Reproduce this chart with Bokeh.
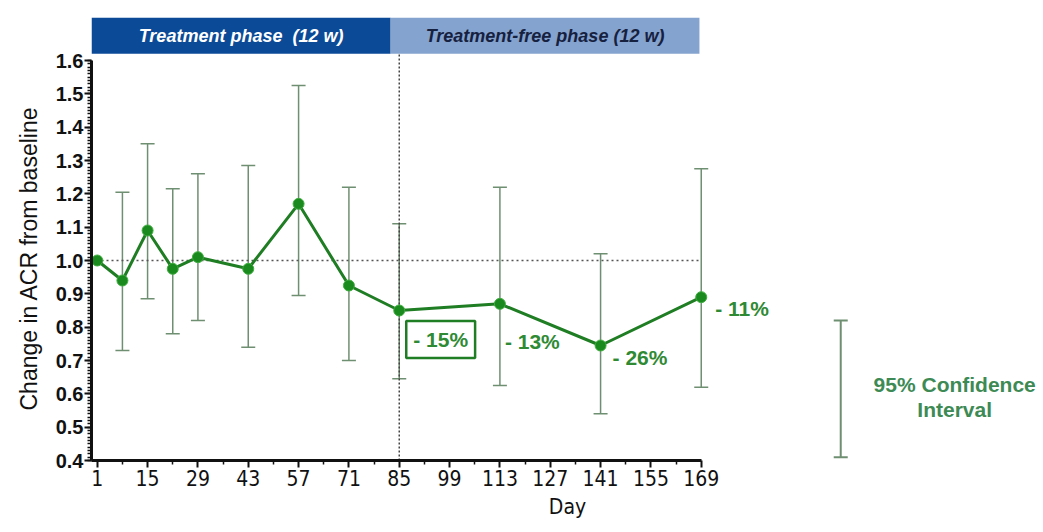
from bokeh.plotting import figure
from bokeh.models import Range1d, FixedTicker, Whisker, ColumnDataSource, Label, Title, CustomJSTickFormatter
from bokeh.embed import file_html
from bokeh.resources import INLINE
import numpy as np

# ---- data ----
days = [1, 8, 15, 22, 29, 43, 57, 71, 85, 113, 141, 169]
acr = [1.00, 0.94, 1.09, 0.975, 1.01, 0.975, 1.17, 0.925, 0.85, 0.87, 0.745, 0.89]
ci_upper = [1.00, 1.205, 1.35, 1.215, 1.26, 1.285, 1.525, 1.22, 1.11, 1.22, 1.02, 1.275]
ci_lower = [1.00, 0.73, 0.885, 0.78, 0.82, 0.74, 0.895, 0.70, 0.645, 0.625, 0.54, 0.62]
pct_days = [85, 113, 141, 169]
pct_vals = [0.85, 0.87, 0.745, 0.89]
pct_labels = ["- 15%", "- 13%", "- 26%", "- 11%"]
x_ticks = [1, 15, 29, 43, 57, 71, 85, 99, 113, 127, 141, 155, 169]
x_minor = [8, 22, 36, 50, 64, 78, 92, 106, 120, 134, 148, 162]
y_ticks = [0.4, 0.5, 0.6, 0.7, 0.8, 0.9, 1.0, 1.1, 1.2, 1.3, 1.4, 1.5, 1.6]
phase_names = ["Treatment phase\u00a0 (12 w)", "Treatment-free phase (12 w)"]
phase_start = [-0.6, 82.6]
phase_end = [82.6, 168.5]
legend_ci = [0.41, 0.82]
legend_text = ["95% Confidence", "Interval"]

# ---- styling positions (screen offsets) ----
pct_dx = [7, 5, 12, 14]
pct_dy = [-29, -38, -12, -11]

GREEN = "#1f7d23"
BAR = "#6f8f72"
FONT = "Liberation Sans"
NARROW = "DejaVu Sans Condensed"

p = figure(width=1043, height=530, output_backend="svg", toolbar_location=None,
           x_range=Range1d(-0.6, 264.2), y_range=Range1d(0.4, 1.75),
           min_border_left=91, min_border_right=0, min_border_top=10, min_border_bottom=70)
p.outline_line_color = None
p.xgrid.visible = False
p.ygrid.visible = False

# axes
p.xaxis.ticker = FixedTicker(ticks=x_ticks, minor_ticks=x_minor)
p.xaxis.bounds = (-0.6, 169)
p.yaxis.ticker = FixedTicker(ticks=y_ticks, minor_ticks=list(np.round(np.arange(0.40, 1.601, 0.01), 2)))
p.yaxis.bounds = (0.4, 1.6)
p.yaxis.formatter = CustomJSTickFormatter(code="return tick.toFixed(1);")
for ax in (p.xaxis[0], p.yaxis[0]):
    ax.axis_line_width = 3
    ax.axis_line_color = "#111111"
    ax.major_tick_line_width = 2
    ax.major_tick_line_color = "#111111"
    ax.minor_tick_line_color = "#111111"
    ax.minor_tick_line_width = 1.5
    ax.major_tick_out = 7
    ax.major_tick_in = 0
    ax.minor_tick_out = 4
    ax.minor_tick_in = 0
    ax.major_label_text_color = "#111111"
    ax.axis_label_text_font_style = "normal"
    ax.axis_label_text_color = "#111111"
p.yaxis.major_label_text_font = FONT
p.yaxis.major_label_text_font_size = "20px"
p.yaxis.major_label_text_font_style = "bold"
p.yaxis.major_label_standoff = 1
p.xaxis.major_label_text_font = NARROW
p.xaxis.major_label_text_font_size = "21px"
p.xaxis.major_label_standoff = 2
p.xaxis.axis_label = "Day"
p.xaxis.axis_label_text_font = NARROW
p.xaxis.axis_label_text_font_size = "21px"
p.xaxis.axis_label_standoff = 6

# y-axis title placed in the left panel, starting just above the axis bottom
p.add_layout(Title(text="Change in ACR from baseline", align="left", offset=50,
                   text_font=FONT, text_font_size="23px", text_font_style="normal",
                   text_color="#111111", standoff=22), "left")

# reference lines
p.line(x=[-0.6, 169], y=[1.0, 1.0], line_color="#555555", line_width=1.5, line_dash="2 3")
p.line(x=[85, 85], y=[0.4, 1.62], line_color="#444444", line_width=1.5, line_dash="2 2")

# phase banner
p.quad(left=phase_start, right=phase_end, bottom=1.62, top=1.728,
       fill_color=["#0b4a97", "#84a3cf"], line_color=None)
p.text(x=[(a + b) / 2 for a, b in zip(phase_start, phase_end)], y=[1.674, 1.674],
       text=phase_names, text_align="center", text_baseline="middle",
       text_font_size="18px", text_font_style="bold italic",
       text_color=["white", "#16213f"], text_font={"value": FONT})

# error bars
src = ColumnDataSource(dict(x=days[1:], upper=ci_upper[1:], lower=ci_lower[1:]))
w = Whisker(base="x", upper="upper", lower="lower", source=src,
            line_color=BAR, line_width=1.5)
for h in (w.upper_head, w.lower_head):
    h.size = 14
    h.line_color = BAR
    h.line_width = 1.5
p.add_layout(w)

# main series
p.line(days, acr, line_color=GREEN, line_width=3)
p.scatter(days, acr, size=11, fill_color="#1a8a1f", line_color="#3fae3f", line_width=1)

# percent labels
for d, v, t, dx, dy in zip(pct_days, pct_vals, pct_labels, pct_dx, pct_dy):
    lab = Label(x=d, y=v, text=t, x_offset=dx, y_offset=dy, text_font=FONT,
                text_font_size="21px", text_font_style="bold", text_color="#2f8a34",
                text_baseline="middle")
    if t == "- 15%":
        lab.border_line_color = GREEN
        lab.border_line_width = 2.5
        lab.padding = 7
    p.add_layout(lab)

# legend CI sample
lsrc = ColumnDataSource(dict(x=[207.8], upper=[legend_ci[1]], lower=[legend_ci[0]]))
lw = Whisker(base="x", upper="upper", lower="lower", source=lsrc, line_color=BAR, line_width=2)
for h in (lw.upper_head, lw.lower_head):
    h.size = 14
    h.line_color = BAR
    h.line_width = 2
p.add_layout(lw)
p.text(x=[239.5, 239.5], y=[0.628, 0.553], text=legend_text,
       text_align="center", text_baseline="middle", text_font_size="21px",
       text_font_style="bold", text_color="#3d8a55", text_font={"value": FONT})

open("out.html", "w").write(file_html(p, INLINE))
